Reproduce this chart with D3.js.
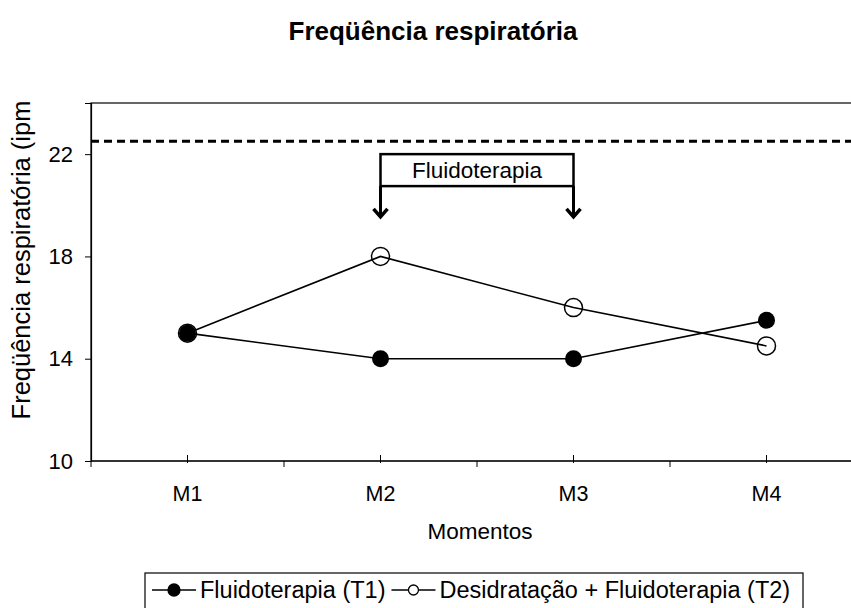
<!DOCTYPE html>
<html>
<head>
<meta charset="utf-8">
<script src="https://cdn.jsdelivr.net/npm/d3@7"></script>
<style>
  body{margin:0;background:#fff;}
  svg text{font-family:"Liberation Sans",Arial,sans-serif;fill:#000;}
</style>
</head>
<body>
<div class="chart"></div>
<script>
var momentos=["M1","M2","M3","M4"];
var t1=[15,14,14,15.5];
var t2=[15,18,16,14.5];
var yTicks=[10,14,18,22];
var refLine=22.5;
var seriesNames=["Fluidoterapia (T1)","Desidratação + Fluidoterapia (T2)"];
var boxFrom="M2", boxTo="M3", boxText="Fluidoterapia";

var W=851, H=608;
var mLeft=91, mRight=863, mTop=103, mBottom=461;

var svg=d3.select(".chart").append("svg")
  .attr("width",W)
  .attr("height",H);

var x=d3.scaleBand()
  .domain(momentos)
  .range([mLeft,mRight]);

var y=d3.scaleLinear()
  .domain([10,24])
  .range([mBottom,mTop]);

function cx(d){return x(d)+x.bandwidth()/2;}

// title
svg.append("text")
  .attr("x",433).attr("y",40)
  .attr("text-anchor","middle")
  .attr("font-size","26px")
  .attr("font-weight","bold")
  .text("Freqüência respiratória");

// plot frame
svg.append("rect")
  .attr("x",mLeft).attr("y",mTop)
  .attr("width",mRight-mLeft).attr("height",mBottom-mTop)
  .attr("fill","none")
  .attr("stroke","#000")
  .attr("stroke-width",1.2);

// y axis
var yAxis=svg.append("g")
  .attr("transform","translate("+mLeft+",0)")
  .call(d3.axisLeft(y).tickValues(yTicks).tickSize(6).tickPadding(12));
yAxis.select(".domain").attr("stroke-width",1.2);
yAxis.selectAll("text").attr("font-size","22px").attr("font-family","Liberation Sans, Arial, sans-serif");

// x axis
var xAxis=svg.append("g")
  .attr("transform","translate(0,"+mBottom+")");
xAxis.append("line")
  .attr("x1",mLeft).attr("x2",mRight)
  .attr("stroke","#000").attr("stroke-width",1.2);
// boundary ticks (down)
xAxis.selectAll(".btick")
  .data(momentos.concat(["end"]))
  .enter().append("line")
  .attr("x1",function(d,i){return mLeft+i*x.step();})
  .attr("x2",function(d,i){return mLeft+i*x.step();})
  .attr("y1",0).attr("y2",6)
  .attr("stroke","#000");
// centre ticks
xAxis.selectAll(".ctick")
  .data(momentos)
  .enter().append("line")
  .attr("x1",cx).attr("x2",cx)
  .attr("y1",-6).attr("y2",2)
  .attr("stroke","#000");
xAxis.selectAll(".xlab")
  .data(momentos)
  .enter().append("text")
  .attr("x",cx).attr("y",40)
  .attr("text-anchor","middle")
  .attr("font-size","21.5px")
  .text(function(d){return d;});

svg.append("text")
  .attr("x",(mLeft+mRight)/2+3).attr("y",539)
  .attr("text-anchor","middle")
  .attr("font-size","22.5px")
  .text("Momentos");

svg.append("text")
  .attr("transform","translate(30,260) rotate(-90)")
  .attr("text-anchor","middle")
  .attr("font-size","25.5px")
  .text("Freqüência respiratória (ipm");

// reference dashed line
svg.append("line")
  .attr("x1",mLeft).attr("x2",mRight)
  .attr("y1",y(refLine)).attr("y2",y(refLine))
  .attr("stroke","#000")
  .attr("stroke-width",3)
  .attr("stroke-dasharray","8,5");

// annotation box with arrows
var bx1=cx(boxFrom), bx2=cx(boxTo);
var bTop=y(22), bBot=y(20.75), aTip=y(19.55);
svg.append("rect")
  .attr("x",bx1).attr("y",bTop)
  .attr("width",bx2-bx1).attr("height",bBot-bTop)
  .attr("fill","#fff")
  .attr("stroke","#000")
  .attr("stroke-width",2.5);
svg.append("text")
  .attr("x",(bx1+bx2)/2).attr("y",(bTop+bBot)/2+8)
  .attr("text-anchor","middle")
  .attr("font-size","22.5px")
  .text(boxText);
[bx1,bx2].forEach(function(ax){
  svg.append("line")
    .attr("x1",ax).attr("x2",ax)
    .attr("y1",bBot).attr("y2",aTip-1)
    .attr("stroke","#000").attr("stroke-width",3);
  svg.append("path")
    .attr("d","M"+(ax-7)+","+(aTip-8)+" L"+ax+","+aTip+" L"+(ax+7)+","+(aTip-8))
    .attr("fill","none")
    .attr("stroke","#000").attr("stroke-width",3.5);
});

// series
var line=d3.line()
  .x(function(d,i){return cx(momentos[i]);})
  .y(function(d){return y(d);});

svg.append("path").datum(t2)
  .attr("d",line)
  .attr("fill","none").attr("stroke","#000").attr("stroke-width",1.6);
svg.append("path").datum(t1)
  .attr("d",line)
  .attr("fill","none").attr("stroke","#000").attr("stroke-width",1.6);

svg.selectAll(".p2")
  .data(t2)
  .enter().append("circle")
  .attr("cx",function(d,i){return cx(momentos[i]);})
  .attr("cy",function(d){return y(d);})
  .attr("r",9)
  .attr("fill","none")
  .attr("stroke","#000").attr("stroke-width",1.5);
svg.selectAll(".p1")
  .data(t1)
  .enter().append("circle")
  .attr("cx",function(d,i){return cx(momentos[i]);})
  .attr("cy",function(d){return y(d);})
  .attr("r",8.5)
  .attr("fill","#000");

// legend
var lg=svg.append("g");
lg.append("rect")
  .attr("x",145).attr("y",573)
  .attr("width",658).attr("height",45)
  .attr("fill","#fff")
  .attr("stroke","#000").attr("stroke-width",1.2);
var cur=152;
seriesNames.forEach(function(name,i){
  var filled=(i===0);
  lg.append("line")
    .attr("x1",cur).attr("x2",cur+44)
    .attr("y1",590).attr("y2",590)
    .attr("stroke","#000").attr("stroke-width",1.6);
  lg.append("circle")
    .attr("cx",cur+22).attr("cy",590)
    .attr("r",filled?6:5)
    .attr("fill",filled?"#000":"#fff")
    .attr("stroke","#000").attr("stroke-width",1.3);
  var t=lg.append("text")
    .attr("x",cur+48).attr("y",598)
    .attr("font-size","23.5px")
    .text(name);
  cur=cur+48+t.node().getComputedTextLength()+6;
});
</script>
</body>
</html>
